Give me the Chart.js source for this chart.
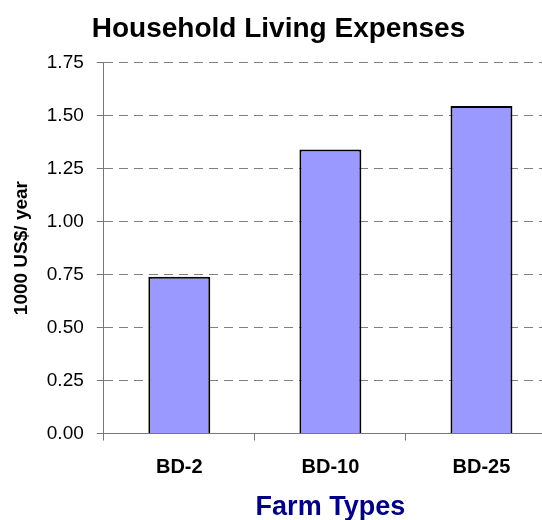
<!DOCTYPE html>
<html lang="en">
<head>
  <meta charset="UTF-8">
  <title>Household Living Expenses</title>
  <script src="https://cdn.jsdelivr.net/npm/chart.js"></script>
  <style>
    html, body { margin: 0; padding: 0; background: #fff; overflow: hidden; }
    #chart-container { width: 560px; height: 520px; }
  </style>
</head>
<body>
  <div id="chart-container">
    <canvas id="barChart"></canvas>
  </div>

  <script>
    const farmTypes = ['BD-2', 'BD-10', 'BD-25'];
    const expenses = [0.74, 1.34, 1.545];
    const yTicks = [0, 0.25, 0.5, 0.75, 1.0, 1.25, 1.5, 1.75];

    const font = "'Liberation Sans', Arial, sans-serif";

    const ctx = document.getElementById('barChart').getContext('2d');
    new Chart(ctx, {
      type: 'bar',
      data: {
        labels: farmTypes,
        datasets: [{
          label: 'Household Living Expenses',
          data: expenses,
          backgroundColor: '#9999ff',
          borderColor: '#000',
          borderWidth: 2,
          barPercentage: 0.41,
          categoryPercentage: 1
        }]
      },
      options: {
        animation: false,
        responsive: true,
        maintainAspectRatio: false,
        layout: { padding: { left: 0, right: 3, top: 0, bottom: 0 } },
        plugins: {
          legend: { display: false },
          tooltip: { enabled: false },
          title: {
            display: true,
            text: 'Household Living Expenses',
            color: '#000',
            font: { family: font, size: 28, weight: 'bold' },
            padding: { top: 12, bottom: 17 }
          }
        },
        scales: {
          x: {
            offset: true,
            grid: { drawOnChartArea: false, color: '#777', tickLength: 7, offset: true },
            border: { color: '#777', width: 1 },
            ticks: { color: '#000', padding: 15, font: { family: font, size: 20, weight: 'bold' } },
            title: {
              display: true,
              text: 'Farm Types',
              color: '#000080',
              font: { family: font, size: 27, weight: 'bold' },
              padding: { top: -3, bottom: -4 }
            }
          },
          y: {
            min: 0,
            max: 1.75,
            afterBuildTicks: axis => { axis.ticks = yTicks.map(v => ({ value: v })); },
            grid: {
              color: '#808080',
              lineWidth: 1,
              tickLength: 7,
              tickBorderDash: [],
              tickColor: '#777'
            },
            border: { color: '#777', width: 1, dash: [9, 6] },
            ticks: {
              color: '#000',
              padding: 13,
              font: { family: font, size: 19 },
              callback: v => Number(v).toFixed(2)
            },
            title: {
              display: true,
              text: '1000 US$/ year',
              color: '#000',
              font: { family: font, size: 19, weight: 'bold' },
              padding: { top: 10, bottom: 1 }
            }
          }
        }
      }
    });
  </script>
</body>
</html>
